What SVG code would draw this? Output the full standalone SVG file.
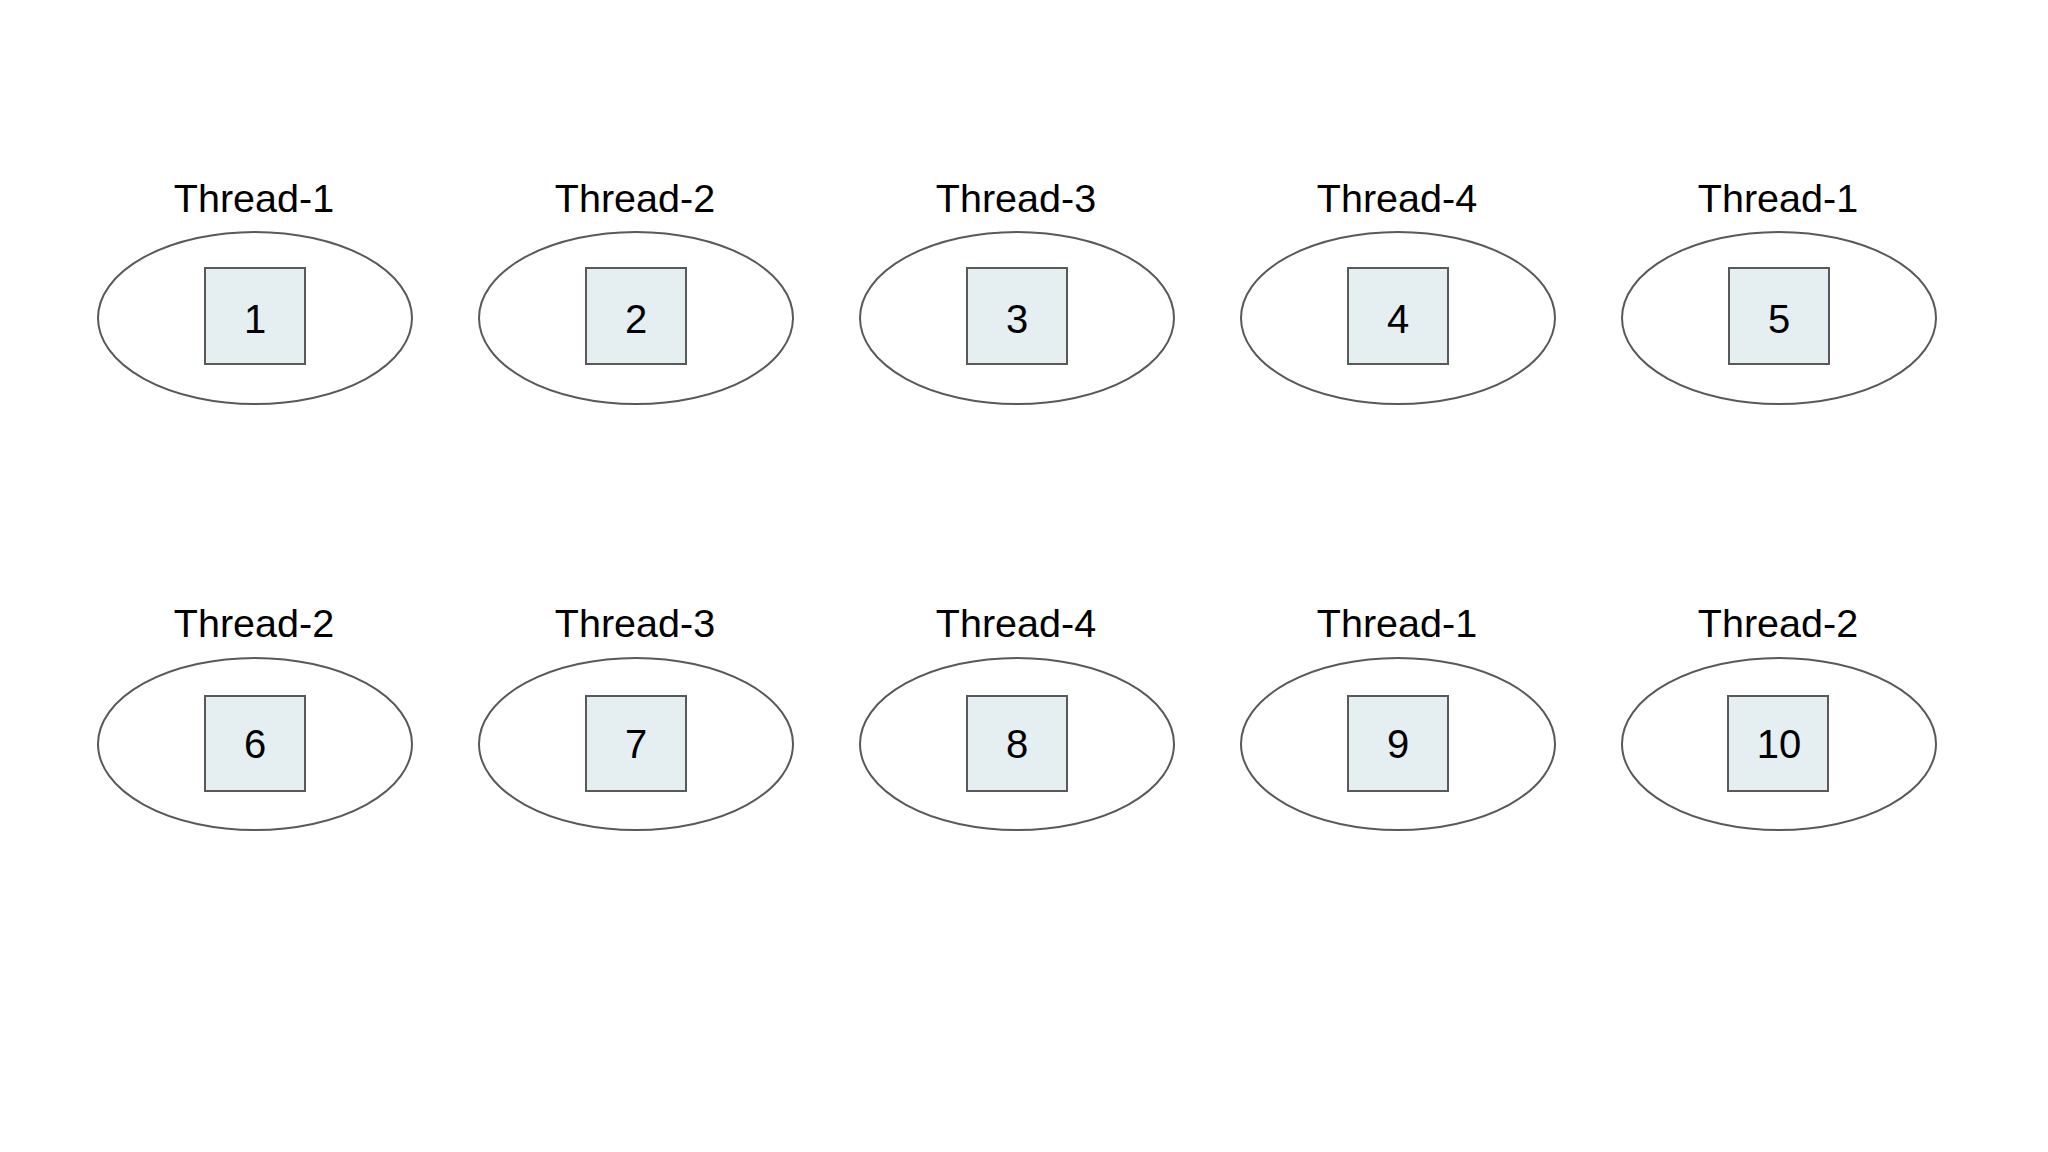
<svg xmlns="http://www.w3.org/2000/svg" width="2048" height="1152" viewBox="0 0 2048 1152">
<style>
.e{fill:#ffffff;stroke:#595959;stroke-width:2}
.s{fill:#e5eef1;stroke:#595959;stroke-width:2}
.l{font-family:"Liberation Sans",Arial,sans-serif;font-size:39.5px;fill:#000;text-anchor:middle}
.n{font-family:"Liberation Sans",Arial,sans-serif;font-size:40px;fill:#000;text-anchor:middle}
</style>
<rect width="2048" height="1152" fill="#ffffff"/>
<g id="connectors"></g>
<g id="node1"><text class="l" x="254" y="212">Thread-1</text><ellipse class="e" cx="255" cy="318" rx="157" ry="86"/><rect class="s" x="205" y="268" width="100" height="96"/><text class="n" x="255" y="333">1</text></g>
<g id="node2"><text class="l" x="635" y="212">Thread-2</text><ellipse class="e" cx="636" cy="318" rx="157" ry="86"/><rect class="s" x="586" y="268" width="100" height="96"/><text class="n" x="636" y="333">2</text></g>
<g id="node3"><text class="l" x="1016" y="212">Thread-3</text><ellipse class="e" cx="1017" cy="318" rx="157" ry="86"/><rect class="s" x="967" y="268" width="100" height="96"/><text class="n" x="1017" y="333">3</text></g>
<g id="node4"><text class="l" x="1397" y="212">Thread-4</text><ellipse class="e" cx="1398" cy="318" rx="157" ry="86"/><rect class="s" x="1348" y="268" width="100" height="96"/><text class="n" x="1398" y="333">4</text></g>
<g id="node5"><text class="l" x="1778" y="212">Thread-1</text><ellipse class="e" cx="1779" cy="318" rx="157" ry="86"/><rect class="s" x="1729" y="268" width="100" height="96"/><text class="n" x="1779" y="333">5</text></g>
<g id="node6"><text class="l" x="254" y="637">Thread-2</text><ellipse class="e" cx="255" cy="744" rx="157" ry="86"/><rect class="s" x="205" y="696" width="100" height="95"/><text class="n" x="255" y="758">6</text></g>
<g id="node7"><text class="l" x="635" y="637">Thread-3</text><ellipse class="e" cx="636" cy="744" rx="157" ry="86"/><rect class="s" x="586" y="696" width="100" height="95"/><text class="n" x="636" y="758">7</text></g>
<g id="node8"><text class="l" x="1016" y="637">Thread-4</text><ellipse class="e" cx="1017" cy="744" rx="157" ry="86"/><rect class="s" x="967" y="696" width="100" height="95"/><text class="n" x="1017" y="758">8</text></g>
<g id="node9"><text class="l" x="1397" y="637">Thread-1</text><ellipse class="e" cx="1398" cy="744" rx="157" ry="86"/><rect class="s" x="1348" y="696" width="100" height="95"/><text class="n" x="1398" y="758">9</text></g>
<g id="node10"><text class="l" x="1778" y="637">Thread-2</text><ellipse class="e" cx="1779" cy="744" rx="157" ry="86"/><rect class="s" x="1728" y="696" width="100" height="95"/><text class="n" x="1779" y="758">10</text></g>
</svg>
